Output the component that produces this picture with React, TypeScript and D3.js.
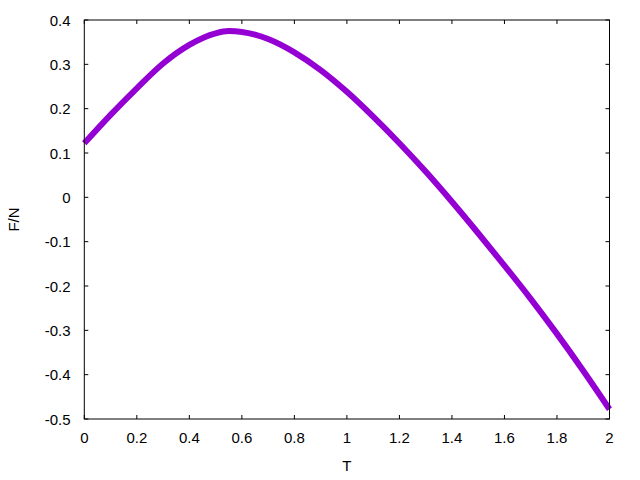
import React from "react";
import * as d3 from "d3";

const tValues = [0, 0.1, 0.2, 0.3, 0.4, 0.5, 0.55, 0.6, 0.65, 0.7, 0.8, 0.9, 1.0, 1.1, 1.2, 1.3, 1.4, 1.5, 1.6, 1.7, 1.8, 1.9, 2.0];
const fValues = [0.122, 0.186, 0.246, 0.302, 0.344, 0.370, 0.375, 0.373, 0.367, 0.357, 0.327, 0.287, 0.238, 0.182, 0.122, 0.058, -0.010, -0.081, -0.154, -0.229, -0.308, -0.391, -0.478];
const xTicks = [0, 0.2, 0.4, 0.6, 0.8, 1, 1.2, 1.4, 1.6, 1.8, 2];
const yTicks = [0.4, 0.3, 0.2, 0.1, 0, -0.1, -0.2, -0.3, -0.4, -0.5];

export default function App() {
  const W = 640, H = 480;
  const L = 84.3, R = 609.5, T = 20, B = 419;
  const x = d3.scaleLinear().domain([0, 2]).range([L, R]);
  const y = d3.scaleLinear().domain([-0.5, 0.4]).range([B, T]);
  const pts = tValues.map((t, i) => [t, fValues[i]] as [number, number]);
  const line = d3.line<[number, number]>().x(d => x(d[0])).y(d => y(d[1])).curve(d3.curveMonotoneX);
  const font = "'Liberation Sans', Arial, sans-serif";
  const tl = 4;
  return (
    <svg width={W} height={H} style={{ position: "absolute", left: 0, top: 0, background: "#fff" }}>
      <defs>
        <clipPath id="pc"><rect x={L - 4} y={T} width={R - L + 8} height={B - T} /></clipPath>
      </defs>
      <g fontFamily={font} fontSize={15} fill="#000">
        {xTicks.map(v => (
          <g key={"x" + v}>
            <line x1={x(v)} x2={x(v)} y1={B} y2={B - tl} stroke="#000" />
            <line x1={x(v)} x2={x(v)} y1={T} y2={T + tl} stroke="#000" />
            <text x={x(v)} y={B + 23.5} textAnchor="middle">{String(v)}</text>
          </g>
        ))}
        {yTicks.map(v => (
          <g key={"y" + v}>
            <line x1={L} x2={L + tl} y1={y(v)} y2={y(v)} stroke="#000" />
            <line x1={R} x2={R - tl} y1={y(v)} y2={y(v)} stroke="#000" />
            <text x={70.5} y={y(v) + 5.5} textAnchor="end">{String(v)}</text>
          </g>
        ))}
        <text x={(L + R) / 2} y={471} textAnchor="middle">T</text>
        <text transform={`translate(19,${(T + B) / 2}) rotate(-90)`} textAnchor="middle">F/N</text>
      </g>
      <path d={line(pts) || ""} fill="none" stroke="#9400d3" strokeWidth={6} clipPath="url(#pc)" />
      <rect x={L} y={T} width={R - L} height={B - T} fill="none" stroke="#000" strokeWidth={1} />
    </svg>
  );
}
